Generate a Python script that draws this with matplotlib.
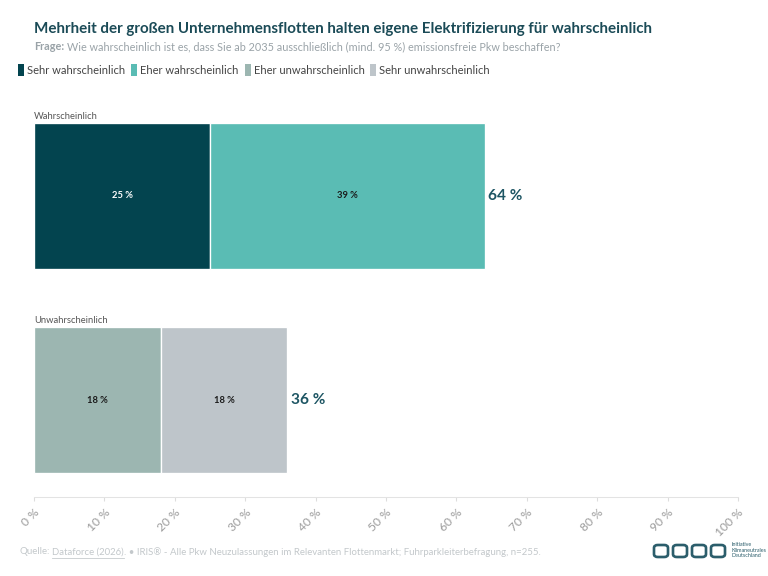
import numpy as np
import matplotlib.pyplot as plt
from matplotlib.patches import FancyBboxPatch

plt.rcParams['font.family'] = ['Lato', 'DejaVu Sans']

groups = ['Wahrscheinlich', 'Unwahrscheinlich']
segments = ['Sehr wahrscheinlich', 'Eher wahrscheinlich', 'Eher unwahrscheinlich', 'Sehr unwahrscheinlich']
colors = ['#03444f', '#5abcb4', '#9cb6b1', '#bec5ca']
wahr_vals = [25, 39]
unwahr_vals = [18, 18]
totals = [64, 36]
ticks = [0, 10, 20, 30, 40, 50, 60, 70, 80, 90, 100]

fig = plt.figure(figsize=(8, 6), dpi=96)
ax = fig.add_axes([34 / 768, 79 / 576, 704 / 768, 387 / 576])

bar_h = 0.716
seg_groups = [(wahr_vals, colors[0:2]), (unwahr_vals, colors[2:4])]
for i, (vals, cols) in enumerate(seg_groups):
    left = 0
    for v, c in zip(vals, cols):
        ax.barh(i, v, left=left, height=bar_h, color=c, edgecolor='white', linewidth=1)
        ax.text(left + v / 2, i, f'{v} %', ha='center', va='center', fontsize=7,
                fontweight='bold', color='white' if c == colors[0] else '#1a1a1a')
        left += v
    ax.text(left + 0.5, i, f'{totals[i]} %', ha='left', va='center', fontsize=11.5,
            fontweight='bold', color='#1d5563')
    ax.text(0, i - bar_h / 2 - 0.01, groups[i], ha='left', va='bottom', fontsize=7, color='#555555')

ax.set_xlim(0, 100)
ax.set_ylim(1.473, -0.42)
ax.set_yticks([])
ax.set_xticks(ticks)
ax.set_xticklabels([f'{t} %' for t in ticks], rotation=45, ha='right', rotation_mode='anchor',
                   fontsize=9, color='#9a9a9a')
ax.tick_params(axis='x', length=3, color='#dddddd', pad=4)
for s in ['top', 'right', 'left']:
    ax.spines[s].set_visible(False)
ax.spines['bottom'].set_color('#e3e3e3')

fig.text(34 / 768, 1 - 29 / 576, 'Mehrheit der großen Unternehmensflotten halten eigene Elektrifizierung für wahrscheinlich',
         fontsize=11.3, fontweight='bold', color='#1b4b57', va='center')
fig.text(34 / 768, 1 - 47 / 576, 'Frage:', fontsize=8.2, fontweight='bold', color='#9aa3a8', va='center')
fig.text(67 / 768, 1 - 47 / 576, 'Wie wahrscheinlich ist es, dass Sie ab 2035 ausschließlich (mind. 95 %) emissionsfreie Pkw beschaffen?',
         fontsize=8.2, color='#9aa3a8', va='center')

fig.canvas.draw()
rend = fig.canvas.get_renderer()

# legend
x = 18
for lab, c in zip(segments, colors):
    fig.patches.append(FancyBboxPatch((x / 768, 1 - 76 / 576), 6 / 768, 12 / 576,
                                      boxstyle='square,pad=0', transform=fig.transFigure,
                                      facecolor=c, edgecolor='none'))
    t = fig.text((x + 9) / 768, 1 - 70 / 576, lab, fontsize=8.3, color='#444444', va='center')
    x += 9 + t.get_window_extent(rend).width + 6

# source line
src_col = '#c3c8cb'
parts = ['Quelle:', 'Dataforce (2026)', '. • IRIS® - Alle Pkw Neuzulassungen im Relevanten Flottenmarkt; Fuhrparkleiterbefragung, n=255.']
x = 19
for k, p in enumerate(parts):
    t = fig.text(x / 768, 1 - 552 / 576, p, fontsize=7.2, color=src_col, va='center')
    w = t.get_window_extent(rend).width
    if k == 1:
        fig.add_artist(plt.Line2D([x / 768, (x + w) / 768], [1 - 558 / 576] * 2, color=src_col, lw=0.6))
    x += w + (3 if k == 0 else 0)

# logo
for k in range(4):
    fig.patches.append(FancyBboxPatch(((654 + k * 19) / 768, 1 - 557 / 576), 14 / 768, 12 / 576,
                                      boxstyle='round,pad=0,rounding_size=0.005', transform=fig.transFigure,
                                      facecolor='none', edgecolor='#2b5d6b', lw=2))
fig.text(732 / 768, 1 - 550 / 576, 'Initiative\nKlimaneutrales\nDeutschland', fontsize=4,
         color='#2b5d6b', va='center', linespacing=1.1)

fig.savefig('out.png', dpi=96, facecolor='white')
